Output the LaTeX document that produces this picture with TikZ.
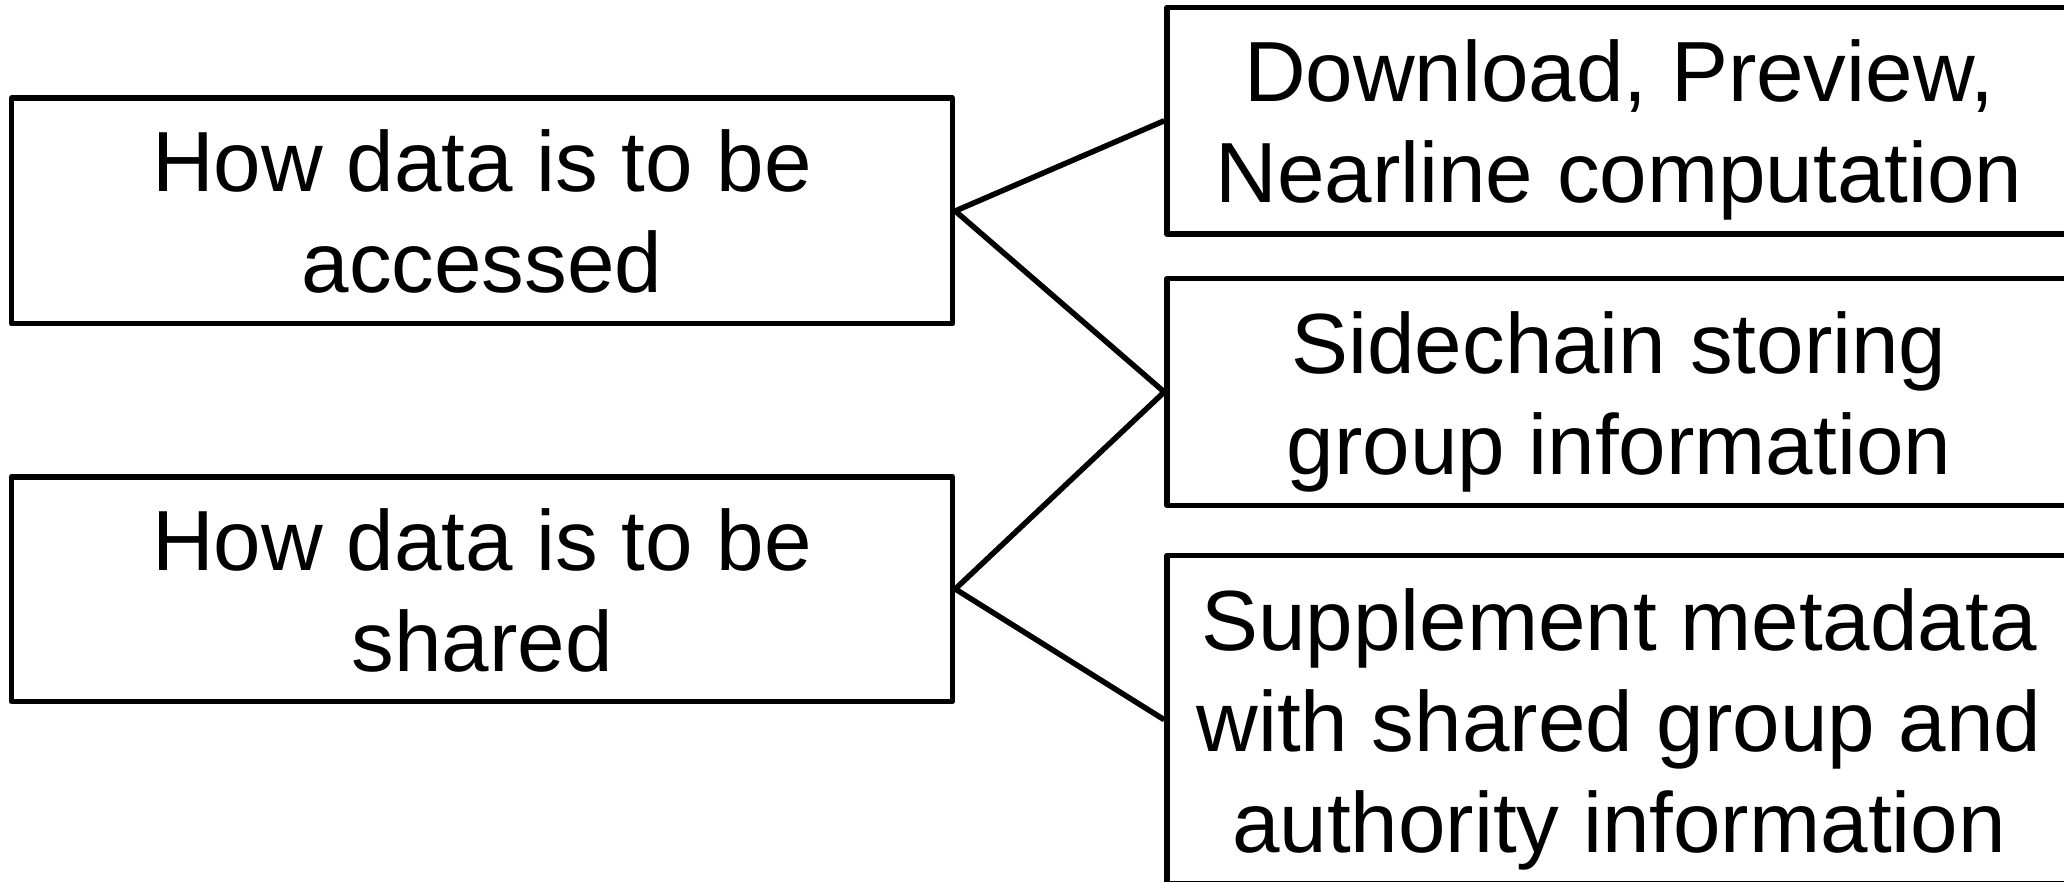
\documentclass[tikz,border=0pt]{standalone}
\usepackage{fontspec}
\setmainfont{Liberation Sans}
\newcommand{\lnstrut}{\rule[-19pt]{0pt}{101pt}}
\begin{document}
\begin{tikzpicture}[x=1pt,y=-1pt,
  box/.style={draw=black, line width=5.5pt, line join=round, rectangle, inner sep=0pt,
    align=center, font=\fontsize{85.4}{101}\selectfont},
  conn/.style={draw=black, line width=5.5pt, line cap=butt}]
\useasboundingbox (0,0) rectangle (2064,882);
\node[box, minimum width=941pt, minimum height=225.5pt] (acc) at (482,211) {\lnstrut How data is to be\\\lnstrut accessed};
\node[box, minimum width=941pt, minimum height=224.5pt] (sha) at (482,589) {\lnstrut How data is to be\\\lnstrut shared};
\node[box, minimum width=904pt, minimum height=226.5pt] (dl) at (1619,120.75) {\lnstrut Download, Preview,\\\lnstrut Nearline computation};
\node[box, minimum width=904pt, minimum height=226.5pt] (sc) at (1619,392) {\lnstrut Sidechain storing\\\lnstrut group information};
\node[box, minimum width=904pt, minimum height=328.5pt] (sm) at (1619,719.75) {\lnstrut Supplement metadata\\\lnstrut with shared group and\\\lnstrut authority information};
\draw[conn] (acc.east) -- (dl.west);
\draw[conn] (acc.east) -- (sc.west);
\draw[conn] (sha.east) -- (sc.west);
\draw[conn] (sha.east) -- (sm.west);
\end{tikzpicture}
\end{document}
